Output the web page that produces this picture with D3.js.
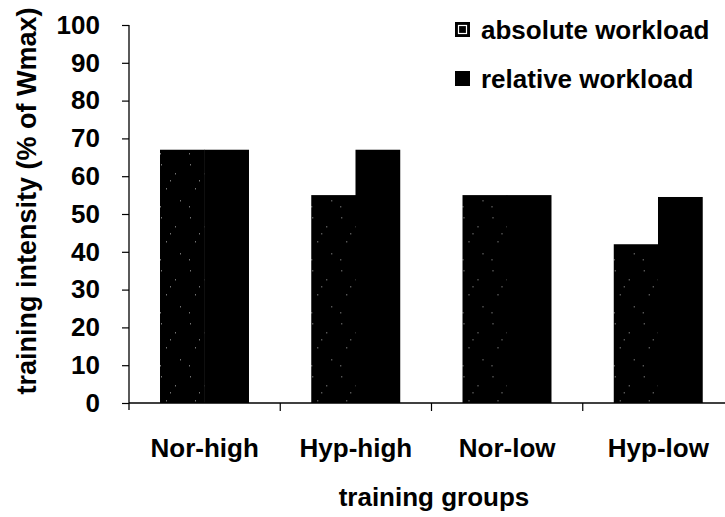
<!DOCTYPE html>
<html>
<head>
<meta charset="utf-8">
<script src="https://cdn.jsdelivr.net/npm/d3@7"></script>
<style>
  html, body { margin: 0; padding: 0; background: #fff; }
  svg { display: block; }
  text { font-family: "Liberation Sans", Arial, sans-serif; fill: #000; font-weight: bold; }
</style>
</head>
<body>
<div id="chart"></div>
<script>
const categories = ["Nor-high", "Hyp-high", "Nor-low", "Hyp-low"];
const seriesNames = ["absolute workload", "relative workload"];
const absoluteValues = [67, 55, 55, 42];
const relativeValues = [67, 67, 55, 54.5];
const yTicks = [0, 10, 20, 30, 40, 50, 60, 70, 80, 90, 100];
const xTitle = "training groups";
const yTitle = "training intensity (% of Wmax)";

const W = 725, H = 517;
const svg = d3.select("#chart").append("svg").attr("width", W).attr("height", H);

const defs = svg.append("defs");
const pat = defs.append("pattern").attr("id", "speckle").attr("patternUnits", "userSpaceOnUse")
  .attr("width", 29).attr("height", 53);
pat.append("rect").attr("width", 29).attr("height", 53).attr("fill", "#000");
[[3,5],[17,14],[8,29],[22,41],[2,47],[12,21]].forEach(([a,b]) =>
  pat.append("rect").attr("x", a).attr("y", b).attr("width", 1).attr("height", 1.5).attr("fill", "#fff").attr("opacity", 0.45));

const y = d3.scaleLinear().domain([0, 100]).range([403, 25]);
const x0 = d3.scaleBand().domain(categories).range([129, 734]).padding(0);
const x1 = d3.scaleBand().domain(seriesNames)
  .range([x0.bandwidth() * 0.205, x0.bandwidth() * 0.79]).padding(0);

const data = categories.map((c, i) => ({ cat: c, vals: [
  { s: seriesNames[0], v: absoluteValues[i] },
  { s: seriesNames[1], v: relativeValues[i] } ] }));

const fills = { "absolute workload": "url(#speckle)", "relative workload": "#000" };

const g = svg.append("g");
g.selectAll("g.grp").data(data).join("g").attr("class", "grp")
  .attr("transform", d => `translate(${x0(d.cat)},0)`)
  .selectAll("rect").data(d => d.vals).join("rect")
  .attr("x", d => x1(d.s))
  .attr("width", x1.bandwidth() + 0.5)
  .attr("y", d => y(d.v))
  .attr("height", d => y(0) - y(d.v))
  .attr("fill", d => fills[d.s]);

// Y axis
const yAxis = d3.axisLeft(y).tickValues(yTicks).tickSize(7).tickPadding(22);
const ya = svg.append("g").attr("transform", "translate(129,0)").call(yAxis);
ya.select(".domain").remove();
ya.append("line").attr("x1", 0).attr("x2", 0).attr("y1", 25).attr("y2", 410).attr("stroke", "#000").attr("stroke-width", 1.3);
ya.selectAll(".tick line").attr("stroke", "#000").attr("stroke-width", 1.2);
ya.selectAll(".tick text").attr("font-size", 26).attr("font-family", "Liberation Sans, Arial, sans-serif")
  .attr("font-weight", "bold").attr("fill", "#000");

// X axis
const xa = svg.append("g").attr("transform", "translate(0,403)");
xa.append("line").attr("x1", 129).attr("x2", 734).attr("y1", 0).attr("y2", 0).attr("stroke", "#000").attr("stroke-width", 1.3);
xa.selectAll("line.t").data(categories.slice(1)).join("line").attr("class", "t")
  .attr("x1", d => x0(d)).attr("x2", d => x0(d)).attr("y1", 0).attr("y2", 8)
  .attr("stroke", "#000").attr("stroke-width", 1.2);
xa.selectAll("text.c").data(categories).join("text").attr("class", "c")
  .attr("x", d => x0(d) + x0.bandwidth() / 2).attr("y", 54)
  .attr("text-anchor", "middle").attr("font-size", 26)
  .text(d => d);

svg.append("text").attr("x", 434).attr("y", 506).attr("text-anchor", "middle")
  .attr("font-size", 26).text(xTitle);

svg.append("text").attr("transform", "translate(36,201) rotate(-90)").attr("text-anchor", "middle")
  .attr("font-size", 27).text(yTitle);

// Legend
const leg = svg.append("g");
seriesNames.forEach((s, i) => {
  const ly = 39 + i * 49;
  const lg = leg.append("g");
  lg.append("rect").attr("x", 455).attr("y", ly - 17).attr("width", 15).attr("height", 15).attr("fill", "#000");
  if (i === 0) {
    lg.append("rect").attr("x", 458.5).attr("y", ly - 13.5).attr("width", 8).attr("height", 8)
      .attr("fill", "none").attr("stroke", "#fff").attr("stroke-width", 1.2);
  }
  lg.append("text").attr("x", 481).attr("y", ly).attr("font-size", 26).text(s);
});
</script>
</body>
</html>
